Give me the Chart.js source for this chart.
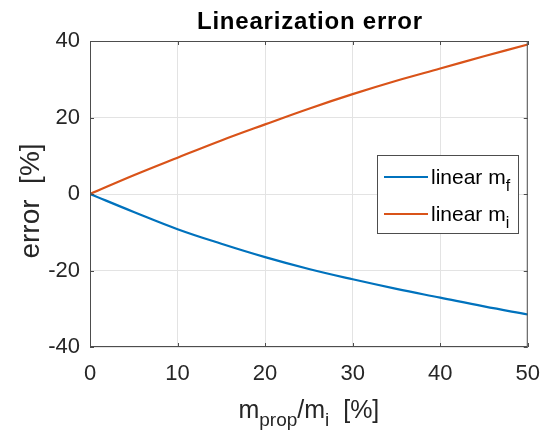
<!DOCTYPE html>
<html>
<head>
<meta charset="utf-8">
<script src="https://cdn.jsdelivr.net/npm/chart.js"></script>
<style>
  html, body { margin: 0; padding: 0; background: #fff; }
  #wrap { width: 554px; height: 433px; }
</style>
</head>
<body>
<div id="wrap"><canvas id="myChart" width="554" height="433"></canvas></div>
<script>
// values
const massRatio = [0, 5, 10, 15, 20, 25, 30, 35, 40, 45, 50];
const errLinearMf = [0, -4.7, -9.2, -13.0, -16.5, -19.6, -22.3, -24.8, -27.1, -29.4, -31.5];
const errLinearMi = [0, 4.9, 9.5, 14.0, 18.2, 22.3, 26.1, 29.6, 32.8, 36.0, 39.1];
const seriesNames = ['linear m', 'linear m'];
const seriesSubs = ['f', 'i'];
const seriesColors = ['#0072BD', '#D95319'];
const titleText = 'Linearization error';

const FONT = '"Liberation Sans", Arial, Helvetica, sans-serif';
const INK = '#262626';

// draws text pieces, some of them as subscripts
function drawParts(ctx, parts, x, y, size, align) {
    const subSize = Math.round(size * 0.75);
    let w = 0;
    parts.forEach(p => {
        ctx.font = (p.sub ? subSize : size) + 'px ' + FONT;
        p.w = ctx.measureText(p.t).width;
        w += p.w;
    });
    let cx = align === 'center' ? x - w / 2 : x;
    ctx.textAlign = 'left';
    ctx.textBaseline = 'alphabetic';
    parts.forEach(p => {
        ctx.font = (p.sub ? subSize : size) + 'px ' + FONT;
        ctx.fillText(p.t, cx, p.sub ? y + size * 0.33 : y);
        cx += p.w;
    });
}

const decor = {
    id: 'decor',
    afterDraw(chart) {
        const ctx = chart.ctx;
        const a = chart.chartArea;
        const xs = chart.scales.x, ys = chart.scales.y;
        ctx.save();
        // box + inner ticks
        ctx.strokeStyle = '#4d4d4d';
        ctx.lineWidth = 1;
        ctx.strokeRect(a.left + 0.5, a.top + 0.5, a.right - a.left - 1, a.bottom - a.top - 1);
        ctx.beginPath();
        xs.ticks.forEach(t => {
            const px = Math.round(xs.getPixelForValue(t.value)) + 0.5;
            ctx.moveTo(px, a.bottom); ctx.lineTo(px, a.bottom - 4);
            ctx.moveTo(px, a.top); ctx.lineTo(px, a.top + 4);
        });
        ys.ticks.forEach(t => {
            const py = Math.round(ys.getPixelForValue(t.value)) + 0.5;
            ctx.moveTo(a.left, py); ctx.lineTo(a.left + 4, py);
            ctx.moveTo(a.right, py); ctx.lineTo(a.right - 4, py);
        });
        ctx.stroke();

        // title
        ctx.fillStyle = '#000';
        ctx.font = 'bold 24px ' + FONT;
        ctx.letterSpacing = '0.8px';
        ctx.textAlign = 'center';
        ctx.textBaseline = 'alphabetic';
        ctx.fillText(titleText, (a.left + a.right) / 2 + 1, 29);
        ctx.letterSpacing = '0px';

        // axis labels
        ctx.fillStyle = INK;
        drawParts(ctx, [{t: 'm'}, {t: 'prop', sub: true}, {t: '/m'}, {t: 'i', sub: true}, {t: '  [%]'}],
            (a.left + a.right) / 2, 418, 25, 'center');
        ctx.save();
        ctx.translate(39, 201);
        ctx.rotate(-Math.PI / 2);
        drawParts(ctx, [{t: 'error  [%]'}], 0, 0, 28, 'center');
        ctx.restore();

        // legend
        const lx = 377, ly = 155, lw = 141, lh = 78;
        ctx.fillStyle = '#fff';
        ctx.fillRect(lx, ly, lw, lh);
        ctx.strokeStyle = '#4d4d4d';
        ctx.lineWidth = 1;
        ctx.strokeRect(lx + 0.5, ly + 0.5, lw, lh);
        seriesNames.forEach((name, i) => {
            const cy = ly + 22 + i * 37;
            ctx.strokeStyle = seriesColors[i];
            ctx.lineWidth = 2;
            ctx.beginPath();
            ctx.moveTo(384, cy); ctx.lineTo(428, cy);
            ctx.stroke();
            ctx.fillStyle = '#000';
            drawParts(ctx, [{t: name}, {t: seriesSubs[i], sub: true}], 431, cy + 7, 21, 'left');
        });
        ctx.restore();
    }
};

const ctx = document.getElementById('myChart');
new Chart(ctx, {
    type: 'line',
    data: {
        datasets: [{
            label: seriesNames[0] + seriesSubs[0],
            data: massRatio.map((x, i) => ({x: x, y: errLinearMf[i]})),
            borderColor: seriesColors[0],
            borderWidth: 2.2,
            pointRadius: 0,
            tension: 0.4
        }, {
            label: seriesNames[1] + seriesSubs[1],
            data: massRatio.map((x, i) => ({x: x, y: errLinearMi[i]})),
            borderColor: seriesColors[1],
            borderWidth: 2.2,
            pointRadius: 0,
            tension: 0.4
        }]
    },
    options: {
        responsive: false,
        animation: false,
        layout: { padding: { top: 41, right: 22, left: 0, bottom: 0 } },
        plugins: { legend: { display: false }, title: { display: false }, tooltip: { enabled: false } },
        scales: {
            x: {
                type: 'linear',
                min: 0, max: 50,
                ticks: { stepSize: 10, color: INK, font: { size: 22, family: FONT }, padding: 14, maxRotation: 0 },
                grid: { color: '#e3e3e3', drawTicks: false },
                border: { display: false },
                afterFit(s) { s.height = 86; }
            },
            y: {
                min: -40, max: 40,
                ticks: { stepSize: 20, color: INK, font: { size: 22, family: FONT }, padding: 10 },
                grid: { color: '#e3e3e3', drawTicks: false },
                border: { display: false },
                afterFit(s) { s.width = 90; }
            }
        }
    },
    plugins: [decor]
});
</script>
</body>
</html>
